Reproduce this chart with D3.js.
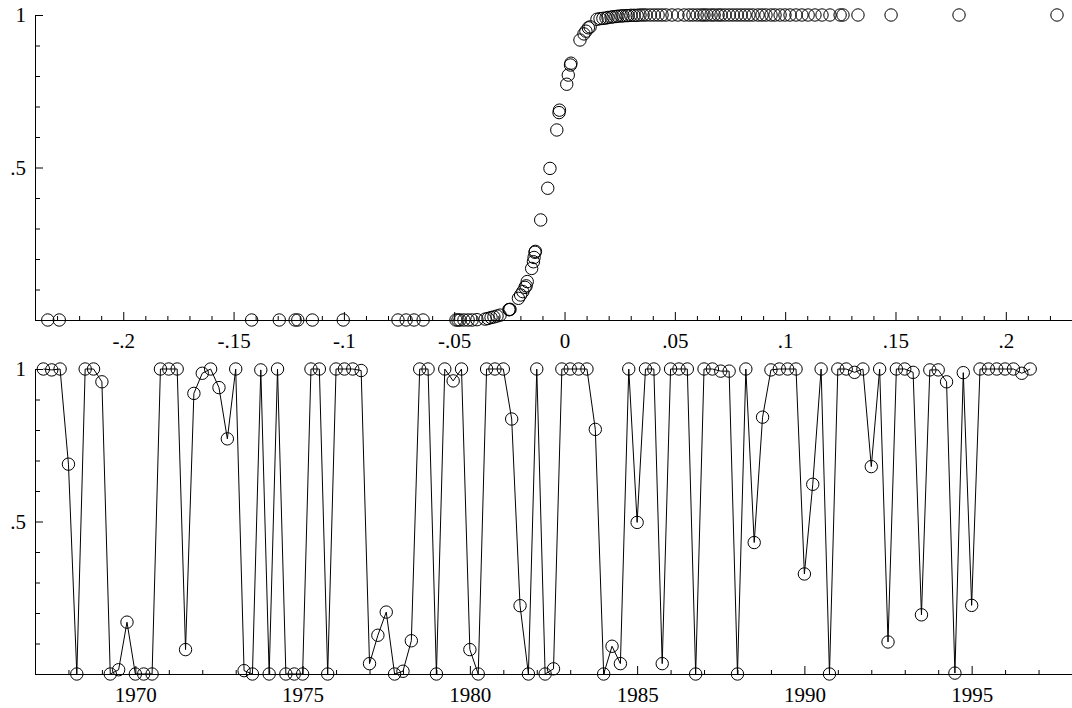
<!DOCTYPE html>
<html>
<head>
<meta charset="utf-8">
<script src="https://cdn.jsdelivr.net/npm/d3@7"></script>
<style>
  html, body { margin: 0; padding: 0; background: #fff; }
  svg { display: block; }
  text { font-family: "Liberation Serif", "DejaVu Serif", serif; }
</style>
</head>
<body>
<svg id="chart" width="1072" height="708"></svg>
<script>
// ---------------- DATA ----------------
// Top panel: index (x) vs predicted probability (y)
const topIndex = [
  -0.2342, -0.2290, -0.1418, -0.1293, -0.1221, -0.1209, -0.1143, -0.1003,
  -0.0755, -0.0718, -0.0682, -0.0641,
  -0.0492, -0.0483, -0.0474, -0.0456, -0.0437, -0.0419, -0.0397,
  -0.0360, -0.0347, -0.0333, -0.0320, -0.0306, -0.0292,
  -0.0252, -0.0250, -0.0247,
  -0.0209, -0.0199, -0.0189, -0.0179, -0.0174, -0.0169,
  -0.0149, -0.0141, -0.0138, -0.0134, -0.0132,
  -0.0108, -0.0076, -0.0066, -0.0035, -0.0025, -0.0023,
  0.0010, 0.0017, 0.0027, 0.0029,
  0.0070, 0.0088, 0.0097, 0.0108, 0.0116,
  0.0147, 0.0161, 0.0174, 0.0188, 0.0197, 0.0211, 0.0220, 0.0233, 0.0242, 0.0256,
  0.0265, 0.0279, 0.0288, 0.0301, 0.0315, 0.0329, 0.0342, 0.0356, 0.0369, 0.0388,
  0.0406, 0.0424, 0.0442, 0.0460, 0.0487, 0.0514, 0.0542, 0.0564, 0.0582, 0.0601,
  0.0619, 0.0632, 0.0646, 0.0664, 0.0678, 0.0696, 0.0709, 0.0727, 0.0746, 0.0764,
  0.0782, 0.0800, 0.0818, 0.0836, 0.0854, 0.0877, 0.0895, 0.0913, 0.0936, 0.0954,
  0.0977, 0.0999, 0.1022, 0.1049, 0.1076, 0.1104, 0.1135, 0.1167, 0.1203, 0.1249,
  0.1262, 0.1330, 0.1480, 0.1788, 0.2232
];
const topProb = [
  0, 0, 0, 0, 0, 0, 0, 0,
  0, 0, 0, 0,
  0, 0, 0, 0, 0, 0, 0.001,
  0.003, 0.005, 0.008, 0.010, 0.013, 0.016,
  0.034, 0.034, 0.035,
  0.071, 0.082, 0.093, 0.107, 0.112, 0.126,
  0.169, 0.191, 0.205, 0.222, 0.225,
  0.328, 0.432, 0.497, 0.623, 0.680, 0.688,
  0.773, 0.803, 0.836, 0.842,
  0.918, 0.938, 0.947, 0.958, 0.961,
  0.986, 0.988, 0.989, 0.990, 0.992, 0.993, 0.994, 0.995, 0.996, 0.997,
  0.997, 0.998, 0.998, 0.999, 0.999, 0.999, 1, 1, 1, 1,
  1, 1, 1, 1, 1, 1, 1, 1, 1, 1,
  1, 1, 1, 1, 1, 1, 1, 1, 1, 1,
  1, 1, 1, 1, 1, 1, 1, 1, 1, 1,
  1, 1, 1, 1, 1, 1, 1, 1, 1, 1,
  1, 1, 1, 1, 1
];

// Bottom panel: quarterly series, 1967q2 .. 1996q4
const startYear = 1967.25;
const seriesProb = [
  1, 0.997, 1, 0.688, 0, 1, 1, 0.958, 0, 0.014,
  0.170, 0, 0, 0, 1, 1, 1, 0.080, 0.920, 0.986,
  1, 0.939, 0.771, 1, 0.011, 0, 0.997, 0, 1, 0,
  0, 0, 1, 1, 0, 1, 1, 1, 0.995, 0.034,
  0.127, 0.203, 0, 0.009, 0.109, 1, 1, 0, 1, 0.961,
  1, 0.080, 0, 1, 1, 1, 0.836, 0.224, 0, 1,
  0, 0.017, 1, 1, 1, 1, 0.802, 0, 0.091, 0.034,
  1, 0.497, 1, 1, 0.034, 1, 1, 1, 0, 1,
  1, 0.993, 0.993, 0, 1, 0.431, 0.842, 0.997, 1, 1,
  1, 0.328, 0.622, 1, 0, 1, 1, 0.989, 1, 0.680,
  1, 0.105, 1, 1, 0.989, 0.194, 0.997, 0.997, 0.958, 0.003,
  0.988, 0.225, 1, 1, 1, 1, 1, 0.986, 1
];
const quarters = seriesProb.map((_, i) => startYear + i / 4);

// Tick values and labels
const topXTicks = [-0.2, -0.15, -0.1, -0.05, 0, 0.05, 0.1, 0.15, 0.2];
const topXLabels = ["-.2", "-.15", "-.1", "-.05", "0", ".05", ".1", ".15", ".2"];
const yTicks = [0.5, 1];
const yLabels = [".5", "1"];
const yearTicks = [1970, 1975, 1980, 1985, 1990, 1995];
const yearLabels = ["1970", "1975", "1980", "1985", "1990", "1995"];

// ---------------- DRAW ----------------
const svg = d3.select("#chart");
const L = 35, R = 1072;
const fontSize = 21;
const FONT = '"Liberation Serif", "DejaVu Serif", serif';
const r = 6.2;

const xTop = d3.scaleLinear().domain([-0.24, 0.23]).range([L, R]);
const yTop = d3.scaleLinear().domain([0, 1]).range([320, 15]);
const xBot = d3.scaleLinear().domain([1967, 1998]).range([L, R]);
const yBot = d3.scaleLinear().domain([0, 1]).range([674, 369]);

function axes(g, x, y, xMajor, xMajorLabels, xMinor) {
  const y0 = y.range()[0];
  const ax = g.append("g").attr("transform", `translate(0,${y0})`)
    .call(d3.axisBottom(x).tickValues(xMajor).tickSize(-8).tickSizeOuter(0).tickPadding(13)
      .tickFormat((d, i) => xMajorLabels[i]));
  const axm = g.append("g").attr("transform", `translate(0,${y0})`)
    .call(d3.axisBottom(x).tickValues(xMinor).tickSize(-4).tickSizeOuter(0).tickFormat(""));
  axm.select(".domain").remove();
  ax.select(".domain").attr("d", `M${L},0.5H${R}`);
  const ay = g.append("g").attr("transform", `translate(${L},0)`)
    .call(d3.axisLeft(y).tickValues([0].concat(yTicks)).tickSize(-8).tickSizeOuter(0).tickPadding(9)
      .tickFormat(d => { const i = yTicks.indexOf(d); return i >= 0 ? yLabels[i] : ""; }));
  const aym = g.append("g").attr("transform", `translate(${L},0)`)
    .call(d3.axisLeft(y).tickValues(d3.range(1, 10).filter(v => v !== 5).map(v => v / 10))
      .tickSize(-5).tickSizeOuter(0).tickFormat(""));
  aym.select(".domain").remove();
  [ax, axm, ay, aym].forEach(a => {
    a.attr("font-family", FONT).attr("font-size", fontSize);
    a.selectAll("line").attr("stroke", "#000").attr("stroke-width", 1);
    a.selectAll("path").attr("stroke", "#000").attr("stroke-width", 1);
    a.selectAll("text").attr("fill", "#000")
      .attr("font-family", FONT).attr("font-size", fontSize)
      .style("font-size", fontSize + "px").style("font-family", FONT);
  });
}

const gTop = svg.append("g");
axes(gTop, xTop, yTop, topXTicks, topXLabels,
  d3.range(-23, 23).map(v => v / 100).filter(v => !topXTicks.some(t => Math.abs(t - v) < 1e-9)));

gTop.append("g").selectAll("circle")
  .data(topIndex.map((d, i) => [d, topProb[i]]))
  .join("circle")
  .attr("cx", d => xTop(d[0]))
  .attr("cy", d => yTop(d[1]))
  .attr("r", r)
  .attr("fill", "none")
  .attr("stroke", "#000")
  .attr("stroke-width", 1);

const gBot = svg.append("g");
axes(gBot, xBot, yBot, yearTicks, yearLabels,
  d3.range(1967, 1998).filter(v => !yearTicks.includes(v)));

const pts = quarters.map((q, i) => [q, seriesProb[i]]);
gBot.append("path")
  .datum(pts)
  .attr("fill", "none")
  .attr("stroke", "#000")
  .attr("stroke-width", 1)
  .attr("d", d3.line().x(d => xBot(d[0])).y(d => yBot(d[1])));

gBot.append("g").selectAll("circle")
  .data(pts)
  .join("circle")
  .attr("cx", d => xBot(d[0]))
  .attr("cy", d => yBot(d[1]))
  .attr("r", r)
  .attr("fill", "none")
  .attr("stroke", "#000")
  .attr("stroke-width", 1);
</script>
</body>
</html>
